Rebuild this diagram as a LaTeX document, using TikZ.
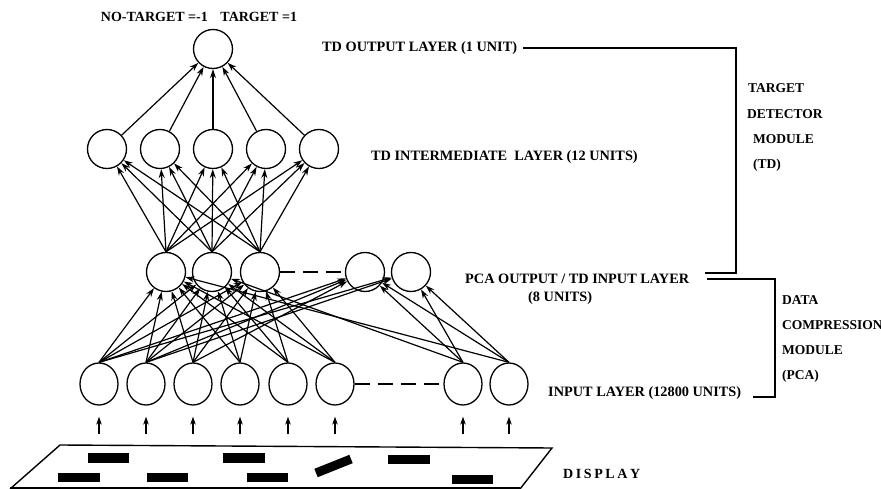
\documentclass[tikz,border=0pt]{standalone}
\usepackage{fontspec}
\setmainfont{Liberation Serif}
\usetikzlibrary{arrows.meta,shapes.geometric}
\begin{document}
\begin{tikzpicture}[x=1pt,y=-1pt,
  neuron/.style={circle,draw,line width=1.3pt,minimum size=39pt,inner sep=0pt},
  inpunit/.style={ellipse,draw,line width=1.3pt,minimum width=38pt,minimum height=42pt,inner sep=0pt},
  conn/.style={-{Stealth[length=9pt,width=6pt]},line width=1.2pt},
  feed/.style={-{Stealth[length=8pt,width=5.5pt]},line width=1.4pt},
  lbl/.style={anchor=west,inner sep=0pt,font=\bfseries\fontsize{14.3}{17}\selectfont},
  mlbl/.style={anchor=west,inner sep=0pt,font=\bfseries\fontsize{13.5}{16}\selectfont},
  brk/.style={line width=1.3pt},
  dashline/.style={line width=2.2pt,dash pattern=on 15pt off 8pt},
  bar/.style={fill=black,draw=none}]
\useasboundingbox (0,0) rectangle (881,489);
% nodes
\node[neuron] (o) at (213,49) {};
\foreach \n/\x in {1/107,2/160,3/213,4/266,5/319}
  \node[neuron] (t\n) at (\x,149) {};
\foreach \n/\x in {1/166,2/212,3/260,4/365,5/411}
  \node[neuron] (p\n) at (\x,272) {};
\foreach \n/\x in {1/99,2/146,3/193,4/240,5/288,6/335,7/463,8/509}{
  \node[inpunit] (i\n) at (\x,384) {};
  \coordinate (b\n) at (\x,434);
  \draw[feed,shorten >=11pt] (b\n) -- (i\n.south);
}
% intermediate -> output
\foreach \n in {1,...,5} \draw[conn] (t\n) -- (o);
% PCA -> intermediate
\foreach \a in {1,2,3} \foreach \b in {1,...,5} \draw[conn] (p\a.north) -- (t\b);
% input -> PCA
\foreach \a/\b in {1/1,1/2,1/3,1/4,1/5,2/1,2/2,2/3,2/4,2/5,3/1,3/2,3/3,3/4,
                   4/1,4/2,4/3,5/1,5/2,5/3,6/1,6/2,6/3,7/2,7/4,7/5,8/1,8/4,8/5}
  \draw[conn] (i\a.north) -- (p\b);
% dashed gaps
\draw[dashline] (p3.east) -- (p4.west);
\draw[dashline] (i6.east) -- (i7.west);
% labels
\node[anchor=center,inner sep=0pt,font=\bfseries\fontsize{14}{17}\selectfont] (tgt) at (199,17) {NO-TARGET =-1\hspace{0.9em}TARGET =1};
\node[lbl] (lto) at (322,48) {TD OUTPUT LAYER (1 UNIT)};
\node[lbl] (lti) at (371,157) {TD INTERMEDIATE\ \ LAYER (12 UNITS)};
\node[lbl] (lpo) at (465,279) {PCA OUTPUT / TD INPUT LAYER};
\node[lbl] (lpu) at (528,298) {(8 UNITS)};
\node[lbl] (lin) at (548,393) {INPUT LAYER (12800 UNITS)};
\node[mlbl] (m1) at (748,88) {TARGET};
\node[mlbl] (m2) at (747,114) {DETECTOR};
\node[mlbl] (m3) at (753,139) {MODULE};
\node[mlbl] (m4) at (753,165) {(TD)};
\node[mlbl] (d1) at (782,300) {DATA};
\node[mlbl] (d2) at (782,325) {COMPRESSION};
\node[mlbl] (d3) at (782,350) {MODULE};
\node[mlbl] (d4) at (782,376) {(PCA)};
\node[lbl,font=\bfseries\fontsize{14}{16}\selectfont] (ldisp) at (563,474) {D\kern2.6pt I\kern2.6pt S\kern2.6pt P\kern2.6pt L\kern2.6pt A\kern2.6pt Y};
% brackets
\coordinate (k1) at (523,48); \coordinate (k2) at (736,48);
\coordinate (k3) at (736,273); \coordinate (k4) at (705,273);
\draw[brk] (k1) -- (k2) -- (k3) -- (k4);
\coordinate (q1) at (707,279); \coordinate (q2) at (775,279);
\coordinate (q3) at (775,397); \coordinate (q4) at (753,397);
\draw[brk] (q1) -- (q2) -- (q3) -- (q4);
% display
\coordinate (s1) at (60,445); \coordinate (s2) at (552,448);
\coordinate (s3) at (520,489); \coordinate (s4) at (10,489);
\draw[line width=1.4pt] (s4) -- (s1) -- (s2) -- (s3);
\draw[line width=1.4pt] (s4) ++(0,-1) -- (520,488);
\fill[bar] (88,453) rectangle (129,463);
\fill[bar] (223,453) rectangle (265,463);
\fill[bar] (388,455) rectangle (430,464);
\fill[bar] (58,473) rectangle (100,482);
\fill[bar] (147,473) rectangle (188,482);
\fill[bar] (247,473) rectangle (288,482);
\fill[bar] (452,475) rectangle (493,484);
\coordinate (r1) at (316,473); \coordinate (r2) at (351,459);
\draw[line width=9pt] (r1) -- (r2);
\end{tikzpicture}
\end{document}
